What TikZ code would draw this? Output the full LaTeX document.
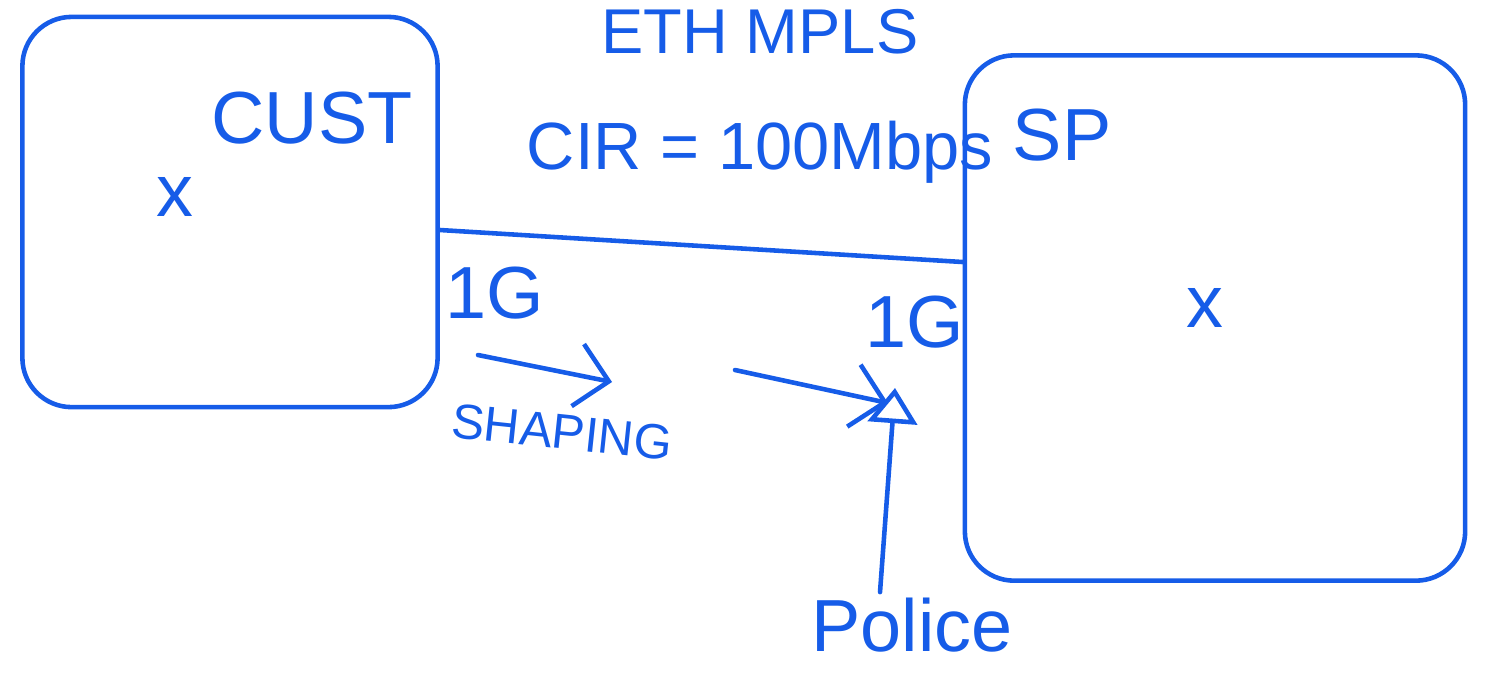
\documentclass[tikz,border=0pt]{standalone}
\usepackage{fontspec}
\setmainfont{Liberation Sans}
\usepackage{tikz}
\usetikzlibrary{arrows.meta}
\definecolor{pen}{RGB}{22,92,232}

\begin{document}
\begin{tikzpicture}[x=0.01cm,y=-0.01cm,pen,line width=1.3pt,line cap=round,
   bx/.style={draw,rounded corners=14pt,inner sep=0pt},
   lbl/.style={font=\fontsize{21}{24}\selectfont,inner sep=1pt},
   sml/.style={font=\fontsize{14}{16}\selectfont,inner sep=1pt},
   chev/.style={-{Straight Barb[length=9pt,width=18pt,line width=1.3pt]}},
   tri/.style={-{Triangle[open,length=10pt,width=14pt,line width=1.3pt]}}]
  \useasboundingbox (0,0) rectangle (1504,693);
  % the two sites
  \node[bx,minimum width=4.15cm,minimum height=3.9cm] (cust) at (230,212) {};
  \node[bx,minimum width=5.0cm,minimum height=5.25cm] (sp) at (1215,318) {};
  \node[lbl] (custlbl) at (312,118) {CUST};
  \node[lbl] (custx) at (175,197) {x};
  \node[lbl] (splbl) at (1062,135) {SP};
  \node[lbl] (spx) at (1205,308) {x};
  % service on top
  \node[lbl,anchor=north,font=\fontsize{18}{20}\selectfont] (svc) at (760,3) {ETH MPLS};
  \node[lbl,font=\fontsize{19}{22}\selectfont] (cir) at (760,152) {CIR = 100Mbps};
  % the link
  \coordinate (la) at (cust.east |- 0,230);
  \coordinate (lb) at (sp.west |- 0,262);
  \draw (la) -- (lb);
  \node[lbl] (gcust) at (495,293) {1G};
  \node[lbl] (gsp) at (915,322) {1G};
  % traffic
  \coordinate (s1) at (478,355);
  \coordinate (s2) at (612,382);
  \coordinate (s3) at (735,370);
  \coordinate (s4) at (888,403);
  \draw[chev] (s1) -- (s2);
  \draw[chev] (s3) -- (s4);
  \node[sml,rotate=-6] (shp) at (562,432) {SHAPING};
  % policer
  \node[lbl] (pol) at (912,625) {Police};
  \coordinate (pt) at (895,388);
  \draw[tri] (pol.north -| 880,0) -- (pt);
\end{tikzpicture}
\end{document}
